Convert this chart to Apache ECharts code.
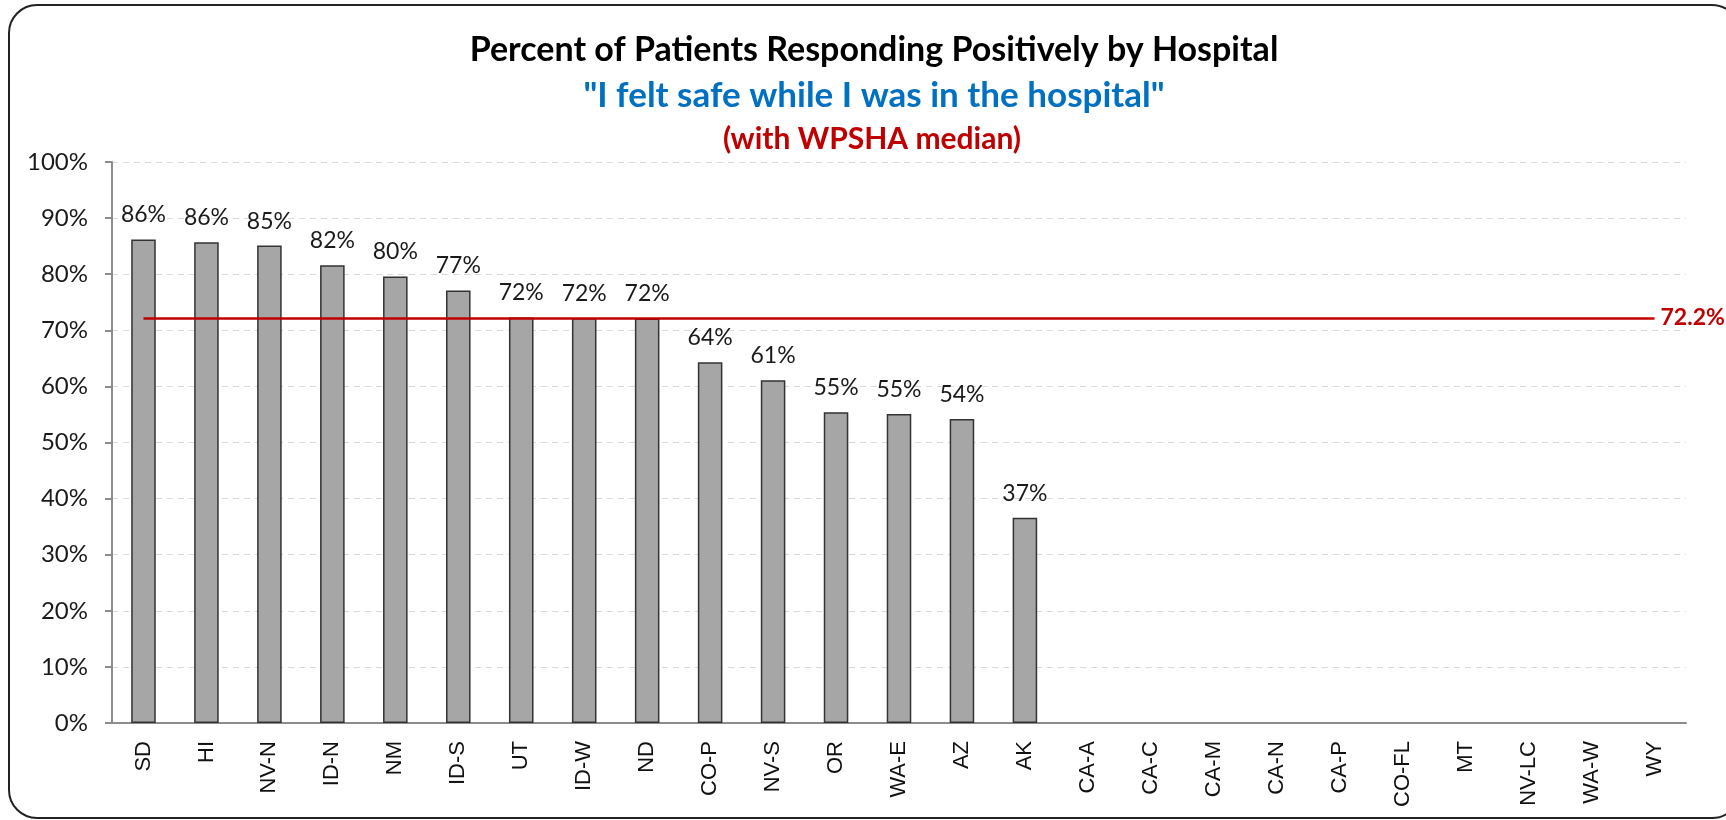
<!DOCTYPE html>
<html>
<head>
<meta charset="utf-8">
<title>Percent of Patients Responding Positively by Hospital</title>
<script src="https://cdn.jsdelivr.net/npm/echarts@6/dist/echarts.min.js"></script>
<style>
  html, body { margin: 0; padding: 0; background: #fff; }
  #main { width: 1726px; height: 820px; }
</style>
</head>
<body>
<div id="main"></div>
<script>
// hospitals, in the order shown on the x axis
const hospitals = ["SD", "HI", "NV-N", "ID-N", "NM", "ID-S", "UT", "ID-W", "ND", "CO-P",
  "NV-S", "OR", "WA-E", "AZ", "AK", "CA-A", "CA-C", "CA-M", "CA-N", "CA-P",
  "CO-FL", "MT", "NV-LC", "WA-W", "WY"];
// percent responding positively (no data for the last ten)
const percentPositive = [86.2, 85.7, 85.1, 81.6, 79.6, 77.1, 72.3, 72.2, 72.1, 64.3,
  61.1, 55.4, 55.1, 54.2, 36.6, null, null, null, null, null,
  null, null, null, null, null];
const wpshaMedian = 72.2;
const yTicks = [0, 10, 20, 30, 40, 50, 60, 70, 80, 90, 100];

const font = "Lato, 'Open Sans', sans-serif";
const catFont = "'Liberation Sans', Arial, sans-serif";
const chart = echarts.init(document.getElementById("main"));

const option = {
  backgroundColor: "#fff",
  animation: false,
  textStyle: { fontFamily: font },
  graphic: [
    {
      // rounded chart frame, right side runs past the page edge
      type: "rect",
      shape: { x: 9, y: 5, width: 1731, height: 813, r: 28 },
      style: { fill: "none", stroke: "#222", lineWidth: 2 },
      silent: true
    },
    {
      type: "text", x: 874, y: 50,
      style: {
        text: "Percent of Patients Responding Positively by Hospital",
        fill: "#000", font: "bold 34px " + font, textAlign: "center", textVerticalAlign: "middle"
      }
    },
    {
      type: "text", x: 874, y: 96,
      style: {
        text: "\"I felt safe while I was in the hospital\"",
        fill: "#0070C0", font: "bold 35px " + font, textAlign: "center", textVerticalAlign: "middle"
      }
    },
    {
      type: "text", x: 872, y: 139,
      style: {
        text: "(with WPSHA median)",
        fill: "#C00000", font: "bold 30px " + font, textAlign: "center", textVerticalAlign: "middle"
      }
    }
  ],
  grid: { left: 112, right: 40, top: 162, bottom: 97 },
  xAxis: {
    type: "category",
    data: hospitals,
    axisLine: { lineStyle: { color: "#8c8c8c", width: 2 } },
    axisTick: { alignWithLabel: false, length: 9, lineStyle: { color: "#8c8c8c", width: 2 } },
    axisLabel: {
      rotate: 90, margin: 18, color: "#111", fontSize: 22, fontFamily: catFont, interval: 0
    }
  },
  yAxis: {
    type: "value",
    min: yTicks[0],
    max: yTicks[yTicks.length - 1],
    interval: 10,
    axisLine: { show: true, lineStyle: { color: "#8c8c8c", width: 2 } },
    axisTick: { show: true, length: 7, lineStyle: { color: "#8c8c8c", width: 2 } },
    axisLabel: { formatter: "{value}%", color: "#1a1a1a", fontSize: 24, fontFamily: font, margin: 24 },
    splitLine: { lineStyle: { color: "#d9d9d9", type: [6, 5], width: 1 } }
  },
  series: [
    {
      type: "bar",
      data: percentPositive,
      barWidth: "39%",
      itemStyle: { color: "#a6a6a6", borderColor: "#333", borderWidth: 1.5 },
      label: {
        show: true,
        position: "top",
        distance: 13,
        color: "#1a1a1a",
        fontSize: 23,
        fontFamily: font,
        formatter: p => (p.value == null ? "" : Math.round(p.value) + "%")
      },
      markLine: {
        silent: true,
        symbol: "none",
        lineStyle: { color: "#C00000", width: 2.5, type: "solid" },
        label: {
          show: true,
          position: "end",
          distance: 6,
          formatter: wpshaMedian.toFixed(1) + "%",
          color: "#C00000",
          fontWeight: "bold",
          fontSize: 23,
          fontFamily: font
        },
        data: [[
          { coord: [hospitals[0], wpshaMedian] },
          { coord: [hospitals[hospitals.length - 1], wpshaMedian] }
        ]]
      }
    }
  ]
};

chart.setOption(option);
</script>
</body>
</html>
